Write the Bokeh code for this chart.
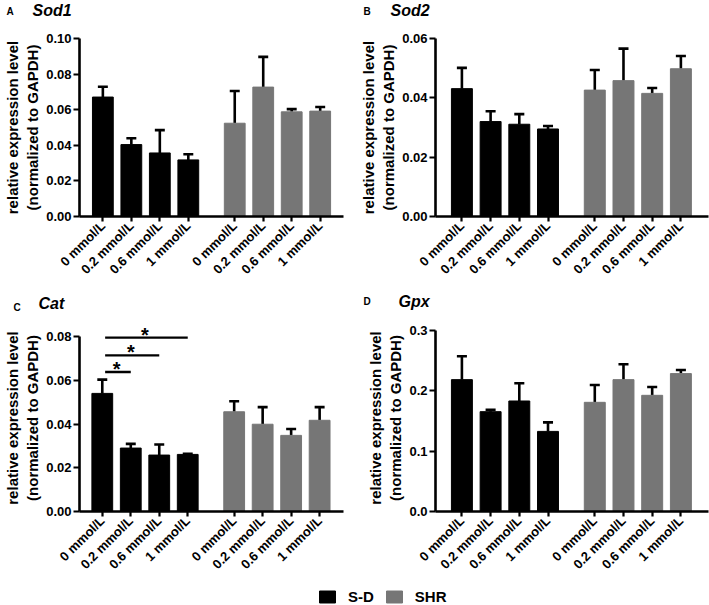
import math
from bokeh.plotting import figure
from bokeh.layouts import column, row
from bokeh.models import (Range1d, FixedTicker, NumeralTickFormatter,
                          Legend, LegendItem, ColumnDataSource)
from bokeh.core.properties import value
from bokeh.embed import file_html
from bokeh.resources import INLINE

# ---------------- data ----------------
doses = ["0 mmol/L", "0.2 mmol/L", "0.6 mmol/L", "1 mmol/L"]
groups = ["S-D", "SHR"]
panel_letters = ["A", "B", "C", "D"]
genes = ["Sod1", "Sod2", "Cat", "Gpx"]

sod1_sd = [0.0671, 0.0404, 0.0357, 0.0318]
sod1_sd_err = [0.0058, 0.0036, 0.0128, 0.0032]
sod1_shr = [0.0524, 0.0727, 0.0588, 0.0592]
sod1_shr_err = [0.0181, 0.0170, 0.0015, 0.0023]

sod2_sd = [0.0431, 0.0320, 0.0311, 0.0295]
sod2_sd_err = [0.0070, 0.0035, 0.0034, 0.0010]
sod2_shr = [0.0426, 0.0458, 0.0415, 0.0498]
sod2_shr_err = [0.0068, 0.0108, 0.0018, 0.0043]

cat_sd = [0.0540, 0.0290, 0.0258, 0.0261]
cat_sd_err = [0.0063, 0.0019, 0.0048, 0.0003]
cat_shr = [0.0456, 0.0399, 0.0348, 0.0417]
cat_shr_err = [0.0048, 0.0078, 0.0029, 0.0060]

gpx_sd = [0.2186, 0.1655, 0.1832, 0.1328]
gpx_sd_err = [0.0387, 0.0033, 0.0293, 0.0150]
gpx_shr = [0.1810, 0.2186, 0.1926, 0.2286]
gpx_shr_err = [0.0287, 0.0254, 0.0138, 0.0060]

# significance in Cat panel (S-D 0 mmol/L vs others)
cat_sig_pairs = [(0, 1), (0, 2), (0, 3)]
cat_sig_y = [0.0638, 0.0714, 0.0795]
cat_sig_text = ["*", "*", "*"]

sod1_ticks = [0.0, 0.02, 0.04, 0.06, 0.08, 0.10]
sod2_ticks = [0.0, 0.02, 0.04, 0.06]
cat_ticks = [0.0, 0.02, 0.04, 0.06, 0.08]
gpx_ticks = [0.0, 0.1, 0.2, 0.3]

ylabel = "relative expression level\n(normalized to GAPDH)"

# ---------------- style ----------------
FONT = "Liberation Sans"
BLACK = "#000000"
GRAY = "#767676"
SLOT = 28.7          # px per category unit
GROUP_OFFSET = 4.63  # position of first SHR bar
BAR_W = 0.73
CAP_HALF = 0.175

pos_sd = [float(i) for i in range(len(doses))]
pos_shr = [GROUP_OFFSET + i for i in range(len(doses))]


def panel(sd, sd_err, shr, shr_err, ticks, fmt,
          width, height, left, right, top, bottom, x_start, y_end, label_standoff):
    frame_w = width - left - right
    x_end = x_start + frame_w / SLOT
    p = figure(width=width, height=height, output_backend="svg",
               toolbar_location=None, tools="",
               x_range=Range1d(x_start, x_end), y_range=Range1d(0, y_end),
               min_border_left=left, min_border_right=right,
               min_border_top=top, min_border_bottom=bottom)
    p.outline_line_color = None
    p.grid.visible = False
    p.background_fill_color = "white"
    p.border_fill_color = "white"

    for pos, vals, errs, col in ((pos_sd, sd, sd_err, BLACK),
                                 (pos_shr, shr, shr_err, GRAY)):
        tops = [v + e for v, e in zip(vals, errs)]
        src = ColumnDataSource(dict(x=pos, top=vals, up=tops,
                                    x0=[x - CAP_HALF for x in pos],
                                    x1=[x + CAP_HALF for x in pos]))
        p.segment(x0="x", y0="top", x1="x", y1="up", source=src,
                  line_color=BLACK, line_width=2.6)
        p.segment(x0="x0", y0="up", x1="x1", y1="up", source=src,
                  line_color=BLACK, line_width=2.6)
        p.vbar(x="x", top="top", width=BAR_W, source=src,
               fill_color=col, line_color=col, line_width=1)

    xa = p.xaxis[0]
    xa.ticker = FixedTicker(ticks=pos_sd + pos_shr)
    xa.major_label_overrides = {x: d for x, d in zip(pos_sd + pos_shr, doses + doses)}
    xa.major_label_orientation = math.pi / 4
    ya = p.yaxis[0]
    ya.ticker = FixedTicker(ticks=ticks)
    ya.formatter = NumeralTickFormatter(format=fmt)
    ya.bounds = (0, ticks[-1])
    ya.axis_label = ylabel
    ya.axis_label_text_font = FONT
    ya.axis_label_text_font_style = "bold"
    ya.axis_label_text_font_size = "15px"
    ya.axis_label_text_color = BLACK
    ya.axis_label_standoff = label_standoff
    for ax in (xa, ya):
        ax.axis_line_width = 2.6
        ax.axis_line_color = BLACK
        ax.major_tick_line_width = 2.2
        ax.major_tick_line_color = BLACK
        ax.major_tick_in = 0
        ax.major_tick_out = 6
        ax.minor_tick_line_color = None
        ax.major_label_text_font = FONT
        ax.major_label_text_font_style = "bold"
        ax.major_label_text_color = BLACK
        ax.major_label_text_font_size = "13px"
        ax.major_label_standoff = 2
    xa.major_tick_out = 5
    return p


def header(height, letters, names, letter_x, name_x, letter_top, name_top):
    h = figure(width=709, height=height, output_backend="svg", toolbar_location=None,
               tools="", x_axis_location=None, y_axis_location=None, min_border=0,
               x_range=Range1d(0, 709), y_range=Range1d(height, 0))
    h.title.visible = False
    h.outline_line_color = None
    h.grid.visible = False
    src = ColumnDataSource(dict(lx=letter_x, nx=name_x, ly=letter_top, ny=name_top,
                                l=letters, n=names))
    h.text(x="lx", y="ly", text="l", source=src, text_font=value(FONT),
           text_font_style="bold", text_font_size="10px", text_color=BLACK,
           text_align="left", text_baseline="top")
    h.text(x="nx", y="ny", text="n", source=src, text_font=value(FONT),
           text_font_style="bold italic", text_font_size="16px", text_color=BLACK,
           text_align="left", text_baseline="top")
    return h


# header rows (page layout positions in px)
h1 = header(24, panel_letters[:2], genes[:2], [6, 363], [32, 390], [5, 5], [1, 1])
h2 = header(28, panel_letters[2:], genes[2:], [13, 363], [38, 398], [13, 7], [6, 4])

pA = panel(sod1_sd, sod1_sd_err, sod1_shr, sod1_shr_err, sod1_ticks, "0.00",
           354, 264, 77, 11, 14, 72, -0.82, 0.10, 2)
pB = panel(sod2_sd, sod2_sd_err, sod2_shr, sod2_shr_err, sod2_ticks, "0.00",
           355, 264, 81, 1, 14, 72, -0.92, 0.06, 2)
pC = panel(cat_sd, cat_sd_err, cat_shr, cat_shr_err, cat_ticks, "0.00",
           354, 266, 77, 11, 8, 71, -0.80, 0.0855, 2)
pD = panel(gpx_sd, gpx_sd_err, gpx_shr, gpx_shr_err, gpx_ticks, "0.0",
           355, 266, 81, 1, 8, 71, -0.92, 0.310, 2)

# significance bars on Cat panel
sig_src = ColumnDataSource(dict(
    x0=[pos_sd[a] + 0.1 for a, b in cat_sig_pairs],
    x1=[pos_sd[b] for a, b in cat_sig_pairs],
    xm=[(pos_sd[a] + pos_sd[b]) / 2 for a, b in cat_sig_pairs],
    y=cat_sig_y, t=cat_sig_text))
pC.segment(x0="x0", y0="y", x1="x1", y1="y", source=sig_src,
           line_color=BLACK, line_width=2.4)
pC.text(x="xm", y="y", text="t", source=sig_src, text_font=value(FONT),
        text_font_style="bold", text_font_size="20px", text_color=BLACK,
        text_align="center", text_baseline="alphabetic", y_offset=-3)

# legend strip
pL = figure(width=709, height=23, output_backend="svg", toolbar_location=None, tools="",
            x_axis_location=None, y_axis_location=None,
            min_border=0, x_range=Range1d(0, 1), y_range=Range1d(0, 1))
pL.outline_line_color = None
pL.grid.visible = False
r_sd = pL.vbar(x=[5], top=[1], width=0.1, fill_color=BLACK, line_color=BLACK)
r_shr = pL.vbar(x=[5], top=[1], width=0.1, fill_color=GRAY, line_color=GRAY)
leg = Legend(items=[LegendItem(label=groups[0], renderers=[r_sd]),
                    LegendItem(label=groups[1], renderers=[r_shr])],
             orientation="horizontal", location=(317, 0),
             glyph_width=20, glyph_height=15, label_standoff=11, spacing=10,
             padding=0, margin=0, border_line_color=None,
             background_fill_alpha=0,
             label_text_font=FONT, label_text_font_style="bold",
             label_text_font_size="15px", label_text_color=BLACK)
pL.add_layout(leg, "center")

layout = column(h1, row(pA, pB), h2, row(pC, pD), pL)

open("out.html", "w").write(file_html(layout, INLINE))
